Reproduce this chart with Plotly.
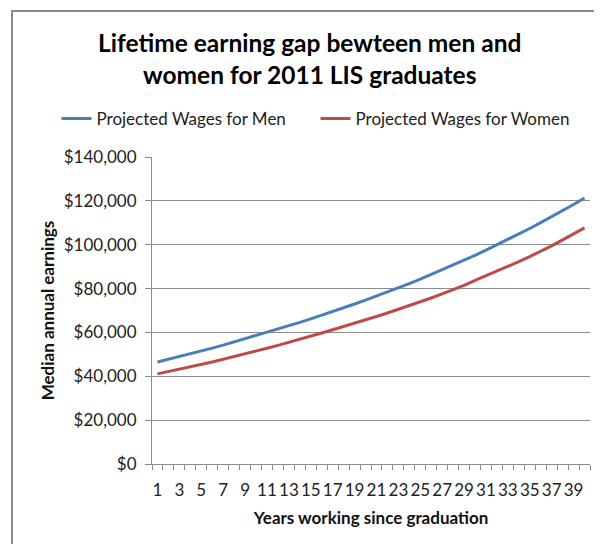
import plotly.graph_objs as go

years = list(range(1, 41))
men_wages = [46500, 47700, 48950, 50200, 51500, 52850, 54200, 55650, 57100, 58550,
             60100, 61600, 63100, 64600, 66200, 67800, 69500, 71200, 72950, 74700,
             76550, 78400, 80350, 82300, 84300, 86400, 88500, 90650, 92900, 95150,
             97500, 99900, 102350, 104850, 107400, 110050, 112750, 115500, 118350, 121300]
women_wages = [41100, 42150, 43200, 44300, 45400, 46550, 47750, 48950, 50200, 51450,
               52750, 54100, 55450, 56850, 58300, 59750, 61200, 62650, 64150, 65700,
               67250, 68850, 70500, 72200, 73950, 75700, 77550, 79400, 81500, 83700,
               85800, 87900, 90100, 92300, 94600, 97000, 99500, 102200, 104900, 107650]
x_labels = [str(y) for y in years if y % 2 == 1]
y_ticks = [0, 20000, 40000, 60000, 80000, 100000, 120000, 140000]

FONT = "Lato"
GRID = "#8c8c8c"

fig = go.Figure()
fig.add_trace(go.Scatter(x=years, y=men_wages, mode="lines",
                         name="Projected Wages for Men",
                         line=dict(color="#4a7ebb", width=3)))
fig.add_trace(go.Scatter(x=years, y=women_wages, mode="lines",
                         name="Projected Wages for Women",
                         line=dict(color="#be4b48", width=3)))

# the page body adds 8px around the figure, so the figure is 8px smaller
fig.update_layout(
    width=594, height=536,
    margin=dict(l=144, r=12, t=149, b=80, autoexpand=False),
    paper_bgcolor="white", plot_bgcolor="white",
    font=dict(family=FONT, color="#222222", size=17),
    title=dict(text="<b>Lifetime earning gap bewteen men and<br>women for 2011 LIS graduates</b>",
               xref="container", x=0.508, xanchor="center",
               yref="container", y=0.917, yanchor="middle",
               font=dict(family=FONT, size=24.5, color="#000000")),
    legend=dict(orientation="h", x=-0.218, xanchor="left", y=1.124, yanchor="middle",
                font=dict(family=FONT, size=17, color="#222222"),
                itemwidth=30, tracegroupgap=0,
                entrywidth=214, entrywidthmode="pixels"),
    showlegend=True,
)

fig.update_xaxes(
    range=[0.5, 40.5],
    tickmode="array", tickvals=[int(v) for v in x_labels], ticktext=x_labels,
    ticks="outside", ticklen=11, tickcolor="rgba(0,0,0,0)", showgrid=False,
    showline=True, linecolor=GRID, linewidth=1,
    tickfont=dict(family=FONT, size=17, color="#222222"),
    minor=dict(tickmode="linear", tick0=0.5, dtick=1, ticks="outside",
               ticklen=5, tickcolor=GRID, showgrid=False),
    title=dict(text="<b>Years working since graduation</b>",
               font=dict(family=FONT, size=17, color="#111111"), standoff=12),
)
fig.update_yaxes(
    range=[0, 140000],
    tickmode="array", tickvals=y_ticks, tickformat="$,.0f",
    ticks="outside", ticklen=6, tickcolor=GRID, ticklabelstandoff=5,
    showgrid=True, gridcolor=GRID, gridwidth=1,
    showline=True, linecolor=GRID, linewidth=1,
    zeroline=False,
    tickfont=dict(family=FONT, size=17, color="#222222"),
    title=dict(text="<b>Median annual earnings</b>",
               font=dict(family=FONT, size=17, color="#111111"), standoff=4),
)

# outer chart frame (cut by the picture edges on the right and bottom)
fig.add_shape(type="rect", xref="paper", yref="paper",
              x0=-0.3196, x1=1.1, y0=-0.3, y1=1.4756,
              line=dict(color="#8c8c8c", width=2), fillcolor="rgba(0,0,0,0)")

fig.write_html("out.html")
